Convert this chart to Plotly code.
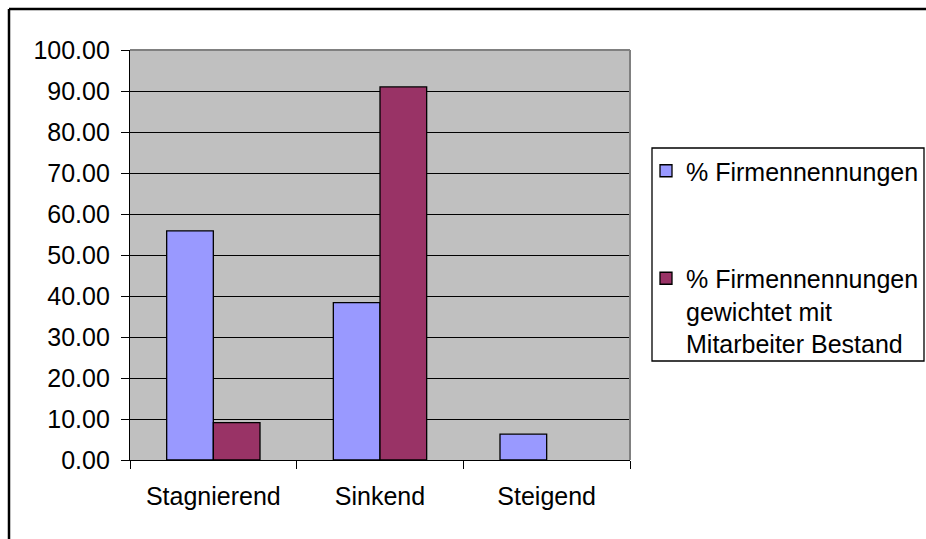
import plotly.graph_objects as go

# Categories and series values (percent)
categories = ["Stagnierend", "Sinkend", "Steigend"]
firmen = [55.9, 38.4, 6.3]
gewichtet = [9.1, 91.0, 0.0]
series_names = [
    "% Firmennennungen",
    "% Firmennennungen<br>gewichtet mit<br>Mitarbeiter Bestand",
]
y_ticks = [0, 10, 20, 30, 40, 50, 60, 70, 80, 90, 100]
y_ticklabels = [f"{v:.2f}" for v in y_ticks]

FONT = "Liberation Sans, Arial, sans-serif"
W, H = 926, 539
L, R, T, B = 130, 296, 50, 79
PW, PH = W - L - R, H - T - B


def px_x(p):
    return (p - L) / PW


def px_y(p):
    return (H - B - p) / PH


def outline_widths(values, w=1.3):
    # no outline on empty bars
    return [w if v > 0 else 0 for v in values]


fig = go.Figure()
fig.add_trace(go.Bar(
    x=categories, y=firmen, name=series_names[0], legendgroup="a",
    marker=dict(color="#9999FF",
                line=dict(color="black", width=outline_widths(firmen))),
))
fig.add_trace(go.Bar(
    x=categories, y=gewichtet, name=series_names[1], legendgroup="b",
    marker=dict(color="#993366",
                line=dict(color="black", width=outline_widths(gewichtet))),
))

fig.update_layout(
    width=W, height=H,
    margin=dict(l=L, r=R, t=T, b=B, pad=0, autoexpand=False),
    paper_bgcolor="white",
    plot_bgcolor="#C0C0C0",
    barmode="group",
    bargap=0.44,
    bargroupgap=0,
    font=dict(family=FONT, size=25, color="black"),
    legend=dict(
        x=px_x(646), y=px_y(148), xanchor="left", yanchor="top",
        borderwidth=0, bgcolor="rgba(0,0,0,0)",
        font=dict(family=FONT, size=25, color="black"),
        tracegroupgap=72, valign="top", itemwidth=30,
    ),
    showlegend=True,
)

fig.update_xaxes(
    showline=True, linecolor="black", linewidth=1.3,
    ticks="outside", tickson="boundaries", ticklen=8, tickcolor="black",
    tickwidth=1.3, showgrid=False, ticklabelstandoff=14,
)
fig.update_yaxes(
    range=[0, 100], tickvals=y_ticks, ticktext=y_ticklabels,
    showline=True, linecolor="black", linewidth=1.3,
    ticks="outside", ticklen=8, tickcolor="black", tickwidth=1.3,
    showgrid=True, gridcolor="black", gridwidth=1.3,
    zeroline=False, ticklabelstandoff=6,
)

# Grey frame on the top and right sides of the plot area
fig.add_shape(type="line", xref="paper", yref="paper", x0=0, x1=1, y0=1, y1=1,
              line=dict(color="#808080", width=2), layer="above")
fig.add_shape(type="line", xref="paper", yref="paper", x0=1, x1=1, y0=0, y1=1,
              line=dict(color="#808080", width=2), layer="above")

# Legend frame
fig.add_shape(type="rect", xref="paper", yref="paper",
              x0=px_x(652), x1=px_x(924), y0=px_y(361), y1=px_y(148),
              fillcolor="white", line=dict(color="black", width=1.3),
              layer="below")

# Outer chart border (left and top edges)
fig.add_shape(type="line", xref="paper", yref="paper",
              x0=px_x(9), x1=px_x(W + 40), y0=px_y(9), y1=px_y(9),
              line=dict(color="black", width=2.5), layer="below")
fig.add_shape(type="line", xref="paper", yref="paper",
              x0=px_x(9), x1=px_x(9), y0=px_y(9), y1=px_y(H + 40),
              line=dict(color="black", width=2.5), layer="below")

fig.write_html("out.html")
